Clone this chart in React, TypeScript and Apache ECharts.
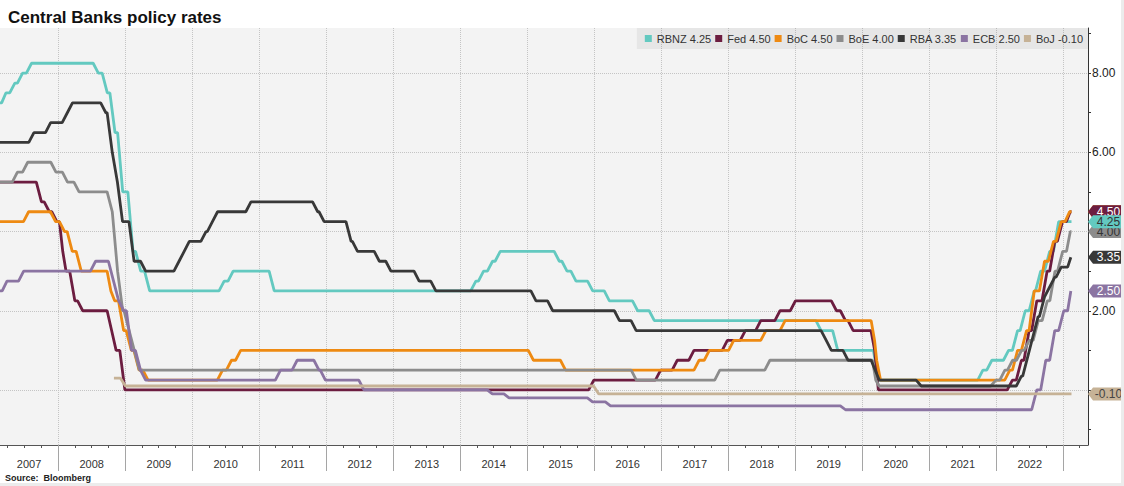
import React, { useEffect, useRef } from "react";
import * as echarts from "echarts";

type Change = [string, number];

const TITLE = "Central Banks policy rates";
const SOURCE = "Source:  Bloomberg";
const AXIS_START = "2007-02-18";
const AXIS_END = "2023-05-16";
const DATA_END = "2023-02-15";
const YEARS = [2007, 2008, 2009, 2010, 2011, 2012, 2013, 2014, 2015, 2016, 2017, 2018, 2019, 2020, 2021, 2022, 2023];
const Y_MIN = -1.39;
const Y_MAX = 9.14;
const Y_TICKS = [-1, 0, 1, 2, 3, 4, 5, 6, 7, 8, 9];
const Y_GRID = [0, 2, 4, 6, 8];
const Y_LABELS = [2, 4, 6, 8];

const NAMES = ["RBNZ 4.25", "Fed 4.50", "BoC 4.50", "BoE 4.00", "RBA 3.35", "ECB 2.50", "BoJ -0.10"];
const TAGS = ["4.25", "4.50", "4.50", "4.00", "3.35", "2.50", "-0.10"];

// rate change points: [date of change, new rate]
const rbnz: Change[] = [
  ["2007-02-18", 7.25], ["2007-03-08", 7.5], ["2007-04-26", 7.75], ["2007-06-07", 8.0], ["2007-07-26", 8.25],
  ["2008-07-24", 8.0], ["2008-09-11", 7.5], ["2008-10-23", 6.5], ["2008-12-04", 5.0], ["2009-01-29", 3.5],
  ["2009-03-12", 3.0], ["2009-04-30", 2.5], ["2010-06-10", 2.75], ["2010-07-29", 3.0], ["2011-03-10", 2.5],
  ["2014-03-13", 2.75], ["2014-04-24", 3.0], ["2014-06-12", 3.25], ["2014-07-24", 3.5], ["2015-06-11", 3.25],
  ["2015-07-23", 3.0], ["2015-09-10", 2.75], ["2015-12-10", 2.5], ["2016-03-10", 2.25], ["2016-08-11", 2.0],
  ["2016-11-10", 1.75], ["2019-05-08", 1.5], ["2019-08-07", 1.0], ["2020-03-16", 0.25], ["2021-10-06", 0.5],
  ["2021-11-24", 0.75], ["2022-02-23", 1.0], ["2022-04-13", 1.5], ["2022-05-25", 2.0], ["2022-07-13", 2.5],
  ["2022-08-17", 3.0], ["2022-10-05", 3.5], ["2022-11-23", 4.25],
];

const fed: Change[] = [
  ["2007-02-18", 5.25], ["2007-09-18", 4.75], ["2007-10-31", 4.5], ["2007-12-11", 4.25], ["2008-01-22", 3.5],
  ["2008-01-30", 3.0], ["2008-03-18", 2.25], ["2008-04-30", 2.0], ["2008-10-08", 1.5], ["2008-10-29", 1.0],
  ["2008-12-16", 0.0], ["2015-12-16", 0.25], ["2016-12-14", 0.5], ["2017-03-15", 0.75], ["2017-06-14", 1.0],
  ["2017-12-13", 1.25], ["2018-03-21", 1.5], ["2018-06-13", 1.75], ["2018-09-26", 2.0], ["2018-12-19", 2.25],
  ["2019-07-31", 2.0], ["2019-09-18", 1.75], ["2019-10-30", 1.5], ["2020-03-03", 1.0], ["2020-03-15", 0.0],
  ["2022-03-16", 0.25], ["2022-05-04", 0.75], ["2022-06-15", 1.5], ["2022-07-27", 2.25], ["2022-09-21", 3.0],
  ["2022-11-02", 3.75], ["2022-12-14", 4.25], ["2023-02-01", 4.5],
];

const boc: Change[] = [
  ["2007-02-18", 4.25], ["2007-07-10", 4.5], ["2007-12-04", 4.25], ["2008-01-22", 4.0], ["2008-03-04", 3.5],
  ["2008-04-22", 3.0], ["2008-10-08", 2.5], ["2008-10-21", 2.25], ["2008-12-09", 1.5], ["2009-01-20", 1.0],
  ["2009-03-03", 0.5], ["2009-04-21", 0.25], ["2010-06-01", 0.5], ["2010-07-20", 0.75], ["2010-09-08", 1.0],
  ["2015-01-21", 0.75], ["2015-07-15", 0.5], ["2017-07-12", 0.75], ["2017-09-06", 1.0], ["2018-01-17", 1.25],
  ["2018-07-11", 1.5], ["2018-10-24", 1.75], ["2020-03-04", 1.25], ["2020-03-13", 0.75], ["2020-03-27", 0.25],
  ["2022-03-02", 0.5], ["2022-04-13", 1.0], ["2022-06-01", 1.5], ["2022-07-13", 2.5], ["2022-09-07", 3.25],
  ["2022-10-26", 3.75], ["2022-12-07", 4.25], ["2023-01-25", 4.5],
];

const boe: Change[] = [
  ["2007-02-18", 5.25], ["2007-05-10", 5.5], ["2007-07-05", 5.75], ["2007-12-06", 5.5], ["2008-02-07", 5.25],
  ["2008-04-10", 5.0], ["2008-10-08", 4.5], ["2008-11-06", 3.0], ["2008-12-04", 2.0], ["2009-01-08", 1.5],
  ["2009-02-05", 1.0], ["2009-03-05", 0.5], ["2016-08-04", 0.25], ["2017-11-02", 0.5], ["2018-08-02", 0.75],
  ["2020-03-11", 0.25], ["2020-03-19", 0.1], ["2021-12-16", 0.25], ["2022-02-03", 0.5], ["2022-03-17", 0.75],
  ["2022-05-05", 1.0], ["2022-06-16", 1.25], ["2022-08-04", 1.75], ["2022-09-22", 2.25], ["2022-11-03", 3.0],
  ["2022-12-15", 3.5], ["2023-02-02", 4.0],
];

const rba: Change[] = [
  ["2007-02-18", 6.25], ["2007-08-08", 6.5], ["2007-11-07", 6.75], ["2008-02-06", 7.0], ["2008-03-05", 7.25],
  ["2008-09-03", 7.0], ["2008-10-08", 6.0], ["2008-11-05", 5.25], ["2008-12-03", 4.25], ["2009-02-04", 3.25],
  ["2009-04-08", 3.0], ["2009-10-07", 3.25], ["2009-11-04", 3.5], ["2009-12-02", 3.75], ["2010-03-03", 4.0],
  ["2010-04-07", 4.25], ["2010-05-05", 4.5], ["2010-11-03", 4.75], ["2011-11-02", 4.5], ["2011-12-07", 4.25],
  ["2012-05-02", 3.75], ["2012-06-06", 3.5], ["2012-10-03", 3.25], ["2012-12-05", 3.0], ["2013-05-08", 2.75],
  ["2013-08-07", 2.5], ["2015-02-04", 2.25], ["2015-05-06", 2.0], ["2016-05-04", 1.75], ["2016-08-03", 1.5],
  ["2019-06-05", 1.25], ["2019-07-03", 1.0], ["2019-10-02", 0.75], ["2020-03-04", 0.5], ["2020-03-20", 0.25],
  ["2020-11-04", 0.1], ["2022-05-04", 0.35], ["2022-06-08", 0.85], ["2022-07-06", 1.35], ["2022-08-03", 1.85],
  ["2022-09-07", 2.35], ["2022-10-05", 2.6], ["2022-11-02", 2.85], ["2022-12-07", 3.1], ["2023-02-08", 3.35],
];

const ecb: Change[] = [
  ["2007-02-18", 2.5], ["2007-03-14", 2.75], ["2007-06-13", 3.0], ["2008-07-09", 3.25], ["2008-10-15", 2.75],
  ["2008-11-12", 2.25], ["2008-12-10", 2.0], ["2009-01-21", 1.0], ["2009-03-11", 0.5], ["2009-04-08", 0.25],
  ["2011-04-13", 0.5], ["2011-07-13", 0.75], ["2011-11-09", 0.5], ["2011-12-14", 0.25], ["2012-07-11", 0.0],
  ["2014-06-11", -0.1], ["2014-09-10", -0.2], ["2015-12-09", -0.3], ["2016-03-16", -0.4], ["2019-09-18", -0.5],
  ["2022-07-27", 0.0], ["2022-09-14", 0.75], ["2022-11-02", 1.5], ["2022-12-21", 2.0], ["2023-02-08", 2.5],
];

const boj: Change[] = [
  ["2008-10-31", 0.3], ["2008-12-19", 0.1], ["2016-01-12", -0.1],
];

const SERIES_DATA = [rbnz, fed, boc, boe, rba, ecb, boj];
const COLORS = ["#63c9c0", "#6c1d40", "#ee8a12", "#8c8c8c", "#383838", "#8b74a2", "#c6b296"];
const TAG_TEXT = ["#333333", "#ffffff", "#ffffff", "#333333", "#ffffff", "#ffffff", "#444444"];
const TAG_Z = [12, 11, 10, 9, 9, 9, 9];

const DAY = 86400000;
const HALF = 14 * DAY;

// step series sampled like the source: each change spans about a month
function buildLine(changes: Change[], end: string): [number, number][] {
  const ts = changes.map((c) => Date.parse(c[0]));
  const tEnd = Date.parse(end);
  const out: [number, number][] = [[ts[0], changes[0][1]]];
  for (let i = 1; i < changes.length; i++) {
    const prevT = ts[i - 1];
    const nextT = i + 1 < changes.length ? ts[i + 1] : tEnd;
    const a = Math.max(ts[i] - HALF, (prevT + ts[i]) / 2);
    const b = Math.min(ts[i] + HALF, (ts[i] + nextT) / 2);
    out.push([a, changes[i - 1][1]]);
    out.push([b, changes[i][1]]);
  }
  out.push([tEnd, changes[changes.length - 1][1]]);
  return out;
}

export default function App() {
  const ref = useRef<HTMLDivElement>(null);

  useEffect(() => {
    document.body.style.margin = "0";
    const xMin = Date.parse(AXIS_START);
    const xMax = Date.parse(AXIS_END);

    const quarterTicks: number[] = [];
    YEARS.forEach((y) => [0, 3, 6, 9].forEach((m) => {
      const t = Date.UTC(y, m, 1);
      if (t >= xMin && t <= xMax) quarterTicks.push(t);
    }));
    const yearTicks = YEARS.map((y) => Date.UTC(y, 0, 1)).filter((t) => t >= xMin && t <= xMax);
    const yearLabels: number[] = [];
    YEARS.forEach((y) => {
      const a = Math.max(Date.UTC(y, 0, 1), xMin);
      const b = Math.min(Date.UTC(y + 1, 0, 1), xMax);
      if (b - a > 182 * DAY) yearLabels.push((a + b) / 2);
    });

    const font = "'Liberation Sans', Arial, sans-serif";
    const tagPath = "path://M0,6.5 L5,0 L36,0 L36,13 L5,13 Z";

    const series = SERIES_DATA.map((d, i) => {
      const last = d[d.length - 1][1];
      return {
        name: NAMES[i],
        type: "line",
        data: buildLine(d, DATA_END),
        showSymbol: false,
        symbol: "none",
        color: COLORS[i],
        lineStyle: { width: 2.8, color: COLORS[i] },
        emphasis: { disabled: true },
        silent: true,
        markPoint: {
          silent: true,
          z: TAG_Z[i],
          symbol: tagPath,
          symbolSize: [36, 13],
          symbolOffset: [18, 0],
          itemStyle: { color: COLORS[i] },
          label: {
            show: true,
            position: "inside",
            offset: [2.5, 0],
            formatter: TAGS[i],
            color: TAG_TEXT[i],
            fontSize: 12,
            fontFamily: font,
          },
          data: [{ coord: [xMax, last], value: last }],
        },
      };
    });

    const option: any = {
      animation: false,
      backgroundColor: "#ffffff",
      title: {
        text: TITLE,
        left: 3,
        top: 4,
        textStyle: { fontSize: 17, fontWeight: "bold", color: "#111111", fontFamily: font },
      },
      legend: {
        data: NAMES,
        right: 33,
        top: 28,
        icon: "rect",
        itemWidth: 7,
        itemHeight: 7,
        itemGap: 4,
        selectedMode: false,
        backgroundColor: "rgba(0,0,0,0.05)",
        padding: [5, 5, 5, 8],
        textStyle: {
          fontSize: 11,
          color: "#333333",
          fontFamily: font,
        },
      },
      graphic: [
        {
          type: "text",
          left: 5,
          top: 473,
          style: { text: SOURCE, fontSize: 9, fontWeight: "bold", fill: "#222222", fontFamily: font },
        },
      ],
      grid: {
        left: 0,
        right: 33,
        top: 28,
        bottom: 38,
        show: true,
        backgroundColor: "#f3f3f3",
        borderWidth: 0,
      },
      xAxis: [
        {
          type: "value",
          min: xMin,
          max: xMax,
          position: "bottom",
          axisLine: { show: true, onZero: false, lineStyle: { color: "#555555", width: 1 } },
          axisTick: { show: true, customValues: quarterTicks, length: 3, lineStyle: { color: "#555555" } },
          axisLabel: { show: false },
          splitLine: { show: false },
        },
        {
          type: "value",
          min: xMin,
          max: xMax,
          position: "bottom",
          axisLine: { show: false, onZero: false },
          axisTick: { show: true, customValues: yearTicks, length: 26, lineStyle: { color: "#a5a5a5" } },
          axisLabel: {
            show: true,
            customValues: yearLabels,
            formatter: (v: number) => String(new Date(v).getUTCFullYear()),
            margin: 13,
            fontSize: 11,
            color: "#333333",
            fontFamily: font,
          },
          splitLine: { show: true, lineStyle: { color: "#c4c4c4", type: "dotted", width: 1 } },
        },
      ],
      yAxis: [
        {
          type: "value",
          position: "right",
          min: Y_MIN,
          max: Y_MAX,
          axisLine: { show: true, onZero: false, lineStyle: { color: "#333333", width: 1 } },
          axisTick: { show: true, customValues: Y_TICKS, length: 3, lineStyle: { color: "#333333" } },
          axisLabel: {
            show: true,
            customValues: Y_LABELS,
            formatter: (v: number) => v.toFixed(2),
            margin: 4,
            fontSize: 12,
            color: "#222222",
            fontFamily: font,
          },
          splitLine: { show: false },
        },
        {
          type: "value",
          position: "right",
          min: Y_MIN,
          max: Y_MAX,
          axisLine: { show: false, onZero: false },
          axisTick: { show: false, customValues: Y_GRID },
          axisLabel: { show: false, customValues: Y_GRID },
          splitLine: { show: true, lineStyle: { color: "#c4c4c4", type: "dotted", width: 1 } },
        },
      ],
      series,
    };

    const chart = echarts.init(ref.current!, null, { renderer: "svg" });
    chart.setOption(option);
    return () => chart.dispose();
  }, []);

  return (
    <div style={{ width: 1124, height: 486, background: "#ececec", position: "relative" }}>
      <div ref={ref} style={{ width: 1121, height: 483 }} />
    </div>
  );
}
